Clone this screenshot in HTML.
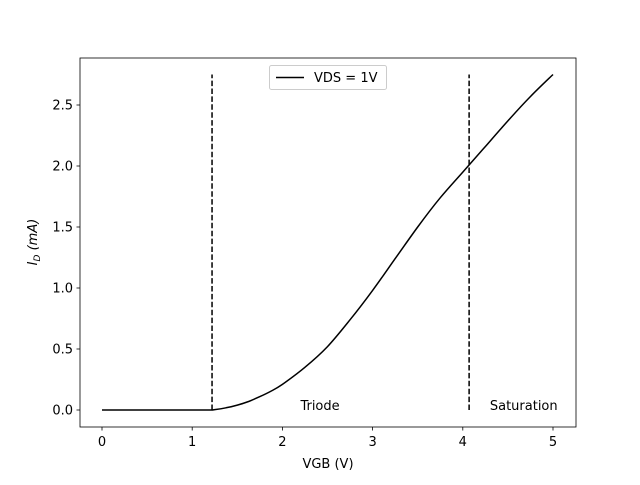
<!DOCTYPE html>
<html><head><meta charset="utf-8"><style>
body{margin:0;background:#fff;}
svg text{font-family:"DejaVu Sans","Liberation Sans",sans-serif;font-size:13px;fill:#000;}
</style></head><body>
<svg id="chart" width="640" height="480" xmlns="http://www.w3.org/2000/svg">
<rect width="640" height="480" fill="#fff"/>
<g id="axes"></g>
</svg>
<script>
const xVals=[0,0.5,1,1.2,1.25,1.375,1.5,1.625,1.75,1.875,2,2.25,2.5,2.75,3,3.25,3.5,3.75,4,4.25,4.5,4.75,5];
const yVals=[0,0,0,0,0.003,0.018,0.04,0.07,0.11,0.155,0.21,0.35,0.52,0.74,0.98,1.24,1.5,1.74,1.95,2.16,2.37,2.57,2.75];
const xTicks=[0,1,2,3,4,5];
const yTicks=[0,0.5,1,1.5,2,2.5];
const vLines=[1.22,4.07];
const regionLabels=[{x:2.2,y:0,t:"Triode"},{x:4.3,y:0,t:"Saturation"}];
const L=80,R=576,T=58,B=427;
const X=v=>102+v*(553-102)/5;
const Y=v=>410-v*(410-105)/2.5;
const NS="http://www.w3.org/2000/svg";
const g=document.getElementById('axes');
function mk(t,a,p){const e=document.createElementNS(NS,t);for(const k in a)e.setAttribute(k,a[k]);(p||g).appendChild(e);return e;}
const fr=mk('rect',{x:L,y:T,width:R-L,height:B-T,fill:'none',stroke:'#000','stroke-width':0.8});


xTicks.forEach(v=>{
 const l=mk('line',{x1:X(v),x2:X(v),y1:B,y2:B+3.5,stroke:'#000','stroke-width':0.8});
 
 
 const t=mk('text',{x:X(v),y:B+19,'text-anchor':'middle'});t.textContent=v;
 
 
});
yTicks.forEach(v=>{
 const l=mk('line',{x1:L-3.5,x2:L,y1:Y(v),y2:Y(v),stroke:'#000','stroke-width':0.8});
 
 
 const t=mk('text',{x:L-7,y:Y(v)+4.5,'text-anchor':'end'});t.textContent=v.toFixed(1);
 
 
});
vLines.forEach(v=>{
 const l=mk('line',{x1:X(v),x2:X(v),y1:Y(0),y2:Y(2.75),stroke:'#000','stroke-width':1.5,'stroke-dasharray':'5.5,2.4'});
 
 
});
// smooth path (Catmull-Rom)
const P=xVals.map((v,i)=>[X(v),Y(yVals[i])]);
let d='M'+P[0][0]+','+P[0][1];
for(let i=0;i<P.length-1;i++){
 const p0=P[Math.max(i-1,0)],p1=P[i],p2=P[i+1],p3=P[Math.min(i+2,P.length-1)];
 const c1=[p1[0]+(p2[0]-p0[0])/6,p1[1]+(p2[1]-p0[1])/6];
 const c2=[p2[0]-(p3[0]-p1[0])/6,p2[1]-(p3[1]-p1[1])/6];
 d+=`C${c1[0].toFixed(1)},${c1[1].toFixed(1)} ${c2[0].toFixed(1)},${c2[1].toFixed(1)} ${p2[0].toFixed(1)},${p2[1].toFixed(1)}`;
}
const p=mk('path',{d:d,fill:'none',stroke:'#000','stroke-width':1.5});


regionLabels.forEach(r=>{
 const t=mk('text',{x:X(r.x),y:Y(r.y)});t.textContent=r.t;
 
 
});
</script>
<svg style="position:absolute;left:0;top:0" width="640" height="480" xmlns="http://www.w3.org/2000/svg">
<text x="328" y="468" text-anchor="middle">VGB (V)</text>
<text transform="translate(37,242) rotate(-90)" text-anchor="middle"><tspan font-style="italic">I</tspan><tspan font-style="italic" font-size="9" dy="3">D</tspan><tspan dy="-3" font-style="italic"> (mA)</tspan></text>
<g>
<rect x="269.5" y="65.5" width="117" height="24" rx="2" fill="#fff" stroke="#ccc" stroke-width="1"/>
<line x1="276" x2="304" y1="77.5" y2="77.5" stroke="#000" stroke-width="1.5"/>
<text x="314" y="82">VDS = 1V</text>
</g>
</svg>
</body></html>
